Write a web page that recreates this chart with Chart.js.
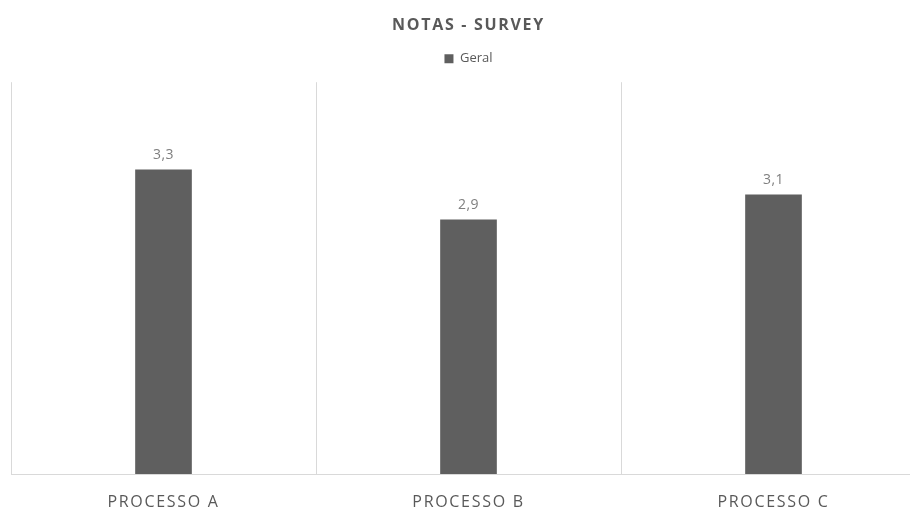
<!DOCTYPE html>
<html>
<head>
<meta charset="utf-8">
<script src="https://cdn.jsdelivr.net/npm/chart.js@4.4.1/dist/chart.umd.min.js"></script>
<style>
  html, body { margin: 0; padding: 0; background: #fff; overflow: hidden; }
  #wrap { width: 910px; height: 508px; overflow: hidden; position: relative; }
  #box { width: 936px; height: 508px; position: absolute; left: 0; top: 0; }
</style>
</head>
<body>
<div id="wrap"><div id="box"><canvas id="myChart"></canvas></div></div>
<script>
const categories = ["PROCESSO A", "PROCESSO B", "PROCESSO C"];
const geral = [3.3, 2.9, 3.1];
const seriesName = "Geral";
const chartTitle = "NOTAS - SURVEY";

const gray = "#595959";
const barColor = "#5f5f5f";
const gridColor = "#d9d9d9";

// value labels above each bar, decimal comma
const valueLabels = {
    id: "valueLabels",
    afterDatasetsDraw(chart) {
        const ctx = chart.ctx;
        const meta = chart.getDatasetMeta(0);
        ctx.save();
        ctx.letterSpacing = "0.5px";
        ctx.font = "14px 'Open Sans'";
        ctx.fillStyle = "#7f7f7f";
        ctx.textAlign = "center";
        ctx.textBaseline = "middle";
        meta.data.forEach(function (bar, i) {
            const v = chart.data.datasets[0].data[i];
            ctx.fillText(v.toFixed(1).replace(".", ","), bar.x, bar.y - 15);
        });
        ctx.restore();
    }
};

// spaced out lettering for the title and axis labels
const spacing = {
    id: "spacing",
    beforeDraw(chart) { chart.ctx.letterSpacing = "1.7px"; },
    afterDraw(chart) { chart.ctx.letterSpacing = "0px"; }
};

var chart = new Chart("myChart", {
    type: "bar",
    data: {
        labels: categories,
        datasets: [
            {
                label: seriesName,
                data: geral,
                backgroundColor: barColor,
                barThickness: 56
            }
        ]
    },
    options: {
        responsive: true,
        maintainAspectRatio: false,
        animation: false,
        layout: { padding: { left: 11, right: 10, top: 0, bottom: 0 } },
        plugins: {
            title: {
                display: true,
                text: chartTitle,
                color: gray,
                font: { family: "'Open Sans'", size: 16, weight: "bold" },
                padding: { top: 16, bottom: 0 }
            },
            legend: {
                display: true,
                labels: {
                    color: gray,
                    font: { family: "'Open Sans'", size: 13 },
                    boxWidth: 9,
                    boxHeight: 9,
                    padding: 17
                }
            },
            tooltip: { enabled: false }
        },
        scales: {
            x: {
                offset: true,
                grid: { display: true, color: gridColor, offset: true, drawTicks: false },
                border: { display: true, color: gridColor },
                ticks: {
                    color: gray,
                    font: { family: "'Open Sans'", size: 16 },
                    padding: 19
                },
                afterFit(scale) { scale.height = 34; }
            },
            y: {
                display: false,
                min: 0.87,
                max: 4
            }
        }
    },
    plugins: [valueLabels, spacing]
});

// legend: plain lettering and some extra room below it
const legendFit = chart.legend.fit;
chart.legend.fit = function () {
    legendFit.call(this);
    this.height += 7;
};
const legendDraw = chart.legend.draw;
chart.legend.draw = function () {
    const ctx = this.ctx;
    const prev = ctx.letterSpacing;
    ctx.letterSpacing = "0px";
    legendDraw.call(this);
    ctx.letterSpacing = prev;
};
chart.update();
</script>
</body>
</html>
